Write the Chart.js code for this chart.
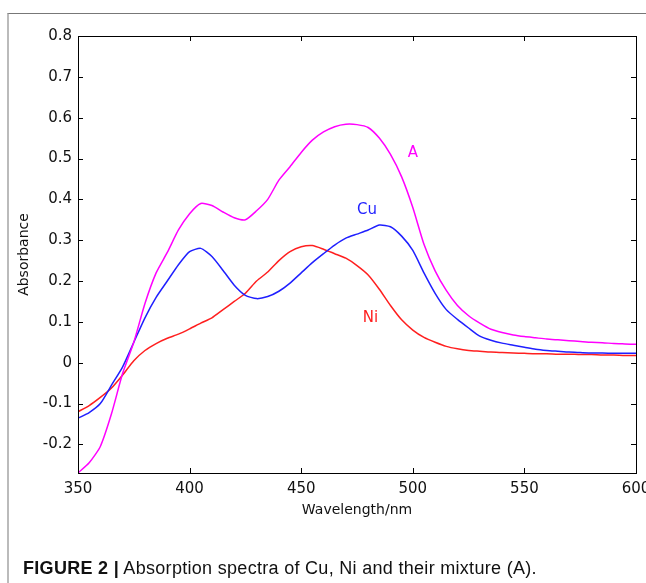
<!DOCTYPE html>
<html>
<head>
<meta charset="utf-8">
<script src="https://cdn.jsdelivr.net/npm/chart.js@4/dist/chart.umd.min.js"></script>
<style>
  html, body { margin: 0; padding: 0; background: #fff; overflow: hidden; }
  #wrap { position: relative; width: 646px; height: 583px; }
  #frame { position: absolute; left: 7px; top: 13px; width: 660px; height: 600px;
           border-top: 1px solid #777; border-left: 2px solid #bbb; box-sizing: border-box; }
  #c { position: absolute; left: 0; top: 0; }
  #caption { position: absolute; left: 23px; top: 558px; font-family: "Liberation Sans", Arial, sans-serif;
             font-size: 18px; line-height: 20px; letter-spacing: 0.3px; color: #111; white-space: nowrap; }
  #caption b { font-weight: bold; }
</style>
</head>
<body>
<div id="wrap">
  <div id="frame"></div>
  <canvas id="c" width="646" height="583"></canvas>
  <div id="caption"><b>FIGURE 2 |</b> Absorption spectra of Cu, Ni and their mixture (A).</div>
</div>
<script>
// ---- Data ----
const wavelengths = [350,355,360,365,370,375,380,385,390,395,400,405,410,415,420,425,430,435,440,445,450,455,460,465,470,475,480,485,490,495,500,505,510,515,520,525,530,535,540,545,550,555,560,565,570,575,580,585,590,595,600];

const absA  = [-0.27,-0.245,-0.205,-0.125,-0.026,0.05,0.145,0.22,0.27,0.325,0.365,0.39,0.385,0.369,0.355,0.35,0.372,0.40,0.447,0.48,0.515,0.545,0.565,0.578,0.584,0.583,0.576,0.55,0.51,0.455,0.38,0.29,0.225,0.177,0.14,0.115,0.097,0.082,0.074,0.068,0.064,0.061,0.058,0.056,0.054,0.052,0.05,0.049,0.047,0.046,0.045];

const absCu = [-0.136,-0.122,-0.10,-0.055,-0.01,0.05,0.11,0.16,0.20,0.24,0.272,0.28,0.26,0.226,0.19,0.165,0.157,0.162,0.175,0.195,0.22,0.245,0.267,0.288,0.305,0.315,0.325,0.337,0.333,0.31,0.275,0.22,0.17,0.13,0.106,0.085,0.065,0.055,0.048,0.043,0.038,0.033,0.03,0.028,0.026,0.025,0.024,0.024,0.023,0.023,0.023];

const absNi = [-0.12,-0.105,-0.085,-0.062,-0.03,0.005,0.03,0.047,0.06,0.07,0.083,0.097,0.11,0.13,0.15,0.17,0.20,0.222,0.25,0.272,0.284,0.287,0.278,0.267,0.256,0.238,0.215,0.18,0.14,0.105,0.08,0.062,0.05,0.04,0.034,0.03,0.028,0.026,0.025,0.024,0.023,0.022,0.022,0.021,0.021,0.02,0.02,0.019,0.019,0.018,0.018];

const seriesNames = ["A", "Cu", "Ni"];
const xTickLabels = [350, 400, 450, 500, 550, 600];
const yTickLabels = [-0.2, -0.1, 0, 0.1, 0.2, 0.3, 0.4, 0.5, 0.6, 0.7, 0.8];

// ---- Styles / positions (kept separate from data) ----
const colors = { A: "#ff00ff", Cu: "#1f1fff", Ni: "#ff1f1f" };
const labelAnchors = { A: [500, 0.513], Cu: [479.5, 0.374], Ni: [481, 0.109] };

const toXY = ys => wavelengths.map((w, i) => ({ x: w, y: ys[i] }));
const seriesData = { A: absA, Cu: absCu, Ni: absNi };

const FONT = "DejaVu Sans";

const frameTicks = {
  id: "frameTicks",
  afterDatasetsDraw(chart) {
    const { ctx, chartArea: a, scales: { x, y } } = chart;
    ctx.save();
    ctx.strokeStyle = "#000";
    ctx.lineWidth = 1;
    ctx.strokeRect(Math.round(a.left) + 0.5, Math.round(a.top) + 0.5,
                   Math.round(a.right - a.left), Math.round(a.bottom - a.top));
    const L = 5;
    ctx.beginPath();
    x.ticks.forEach(t => {
      const px = Math.round(x.getPixelForValue(t.value)) + 0.5;
      ctx.moveTo(px, a.bottom); ctx.lineTo(px, a.bottom - L);
      ctx.moveTo(px, a.top); ctx.lineTo(px, a.top + L);
    });
    y.ticks.forEach(t => {
      const py = Math.round(y.getPixelForValue(t.value)) + 0.5;
      ctx.moveTo(a.left, py); ctx.lineTo(a.left + L, py);
      ctx.moveTo(a.right, py); ctx.lineTo(a.right - L, py);
    });
    ctx.stroke();
    // series labels
    ctx.font = "15px " + FONT;
    ctx.textAlign = "center";
    ctx.textBaseline = "middle";
    seriesNames.forEach(n => {
      const [wx, wy] = labelAnchors[n];
      ctx.fillStyle = colors[n];
      ctx.fillText(n, x.getPixelForValue(wx), y.getPixelForValue(wy));
    });
    ctx.restore();
  }
};

new Chart(document.getElementById("c"), {
  type: "line",
  data: {
    datasets: seriesNames.map(n => ({
      label: n,
      data: toXY(seriesData[n]),
      borderColor: colors[n],
      borderWidth: 1.5,
      pointRadius: 0,
      tension: 0.2,
      fill: false
    }))
  },
  options: {
    responsive: false,
    animation: false,
    devicePixelRatio: 1,
    layout: { padding: { left: 0, right: 10, top: 36, bottom: 0 } },
    plugins: { legend: { display: false }, tooltip: { enabled: false } },
    scales: {
      x: {
        type: "linear",
        min: 350, max: 600,
        grid: { display: false, drawTicks: false },
        border: { display: false },
        ticks: {
          stepSize: 50, padding: 7, color: "#111",
          font: { family: FONT, size: 15 },
          callback: v => xTickLabels.includes(v) ? String(v) : ""
        },
        title: { display: true, text: "Wavelength/nm", color: "#111",
                 font: { family: FONT, size: 14 }, padding: { top: 0, bottom: 64 } },
        afterFit: s => { s.height = 110; s.paddingLeft = 0; s.paddingRight = 0; }
      },
      y: {
        type: "linear",
        min: -0.27, max: 0.8,
        grid: { display: false, drawTicks: false },
        border: { display: false },
        afterBuildTicks: s => {
          s.ticks = yTickLabels.map(v => ({ value: v }));
        },
        ticks: {
          padding: 6, color: "#111",
          font: { family: FONT, size: 15 },
          callback: v => String(Number(v.toFixed(1)))
        },
        title: { display: true, text: "Absorbance", color: "#111",
                 font: { family: FONT, size: 14 }, padding: { top: 16, bottom: 0 } },
        afterFit: s => { s.width = 78; s.paddingTop = 0; s.paddingBottom = 0; }
      }
    }
  },
  plugins: [frameTicks]
});
</script>
</body>
</html>
